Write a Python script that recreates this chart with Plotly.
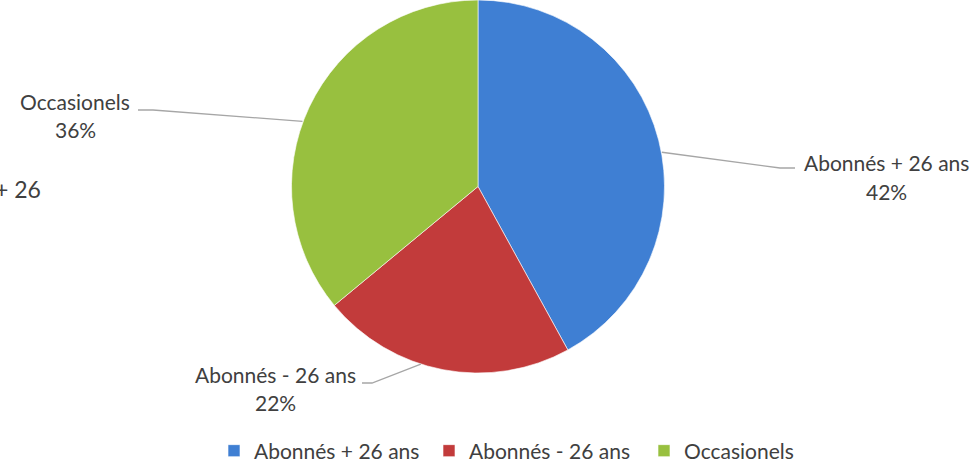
import math
import plotly.graph_objects as go

# ---- data ----
categories = ["Abonnés + 26 ans", "Abonnés - 26 ans", "Occasionels"]
values = [42, 22, 36]
colors = ["#3f7fd3", "#c23b3b", "#98c03f"]

W, H = 975, 463
CX, CY, R = 478, 186, 187  # pie centre / radius in pixels
FONT = "Lato"
FS = 21

# label placement (pixels): text centre x, first line centre y, attach angle offset, elbow, line end
label_style = {
    "Abonnés + 26 ans": dict(tx=886, ty=163, dang=4, elbow=(780, 168), end=(795, 168)),
    "Abonnés - 26 ans": dict(tx=275, ty=374, dang=7, elbow=(372, 383), end=(362, 383)),
    "Occasionels": dict(tx=75, ty=101, dang=-5, elbow=(153, 110), end=(138, 110)),
}

def px(x):
    return x / W

def py(y):
    return 1 - y / H

fig = go.Figure()
fig.add_trace(go.Pie(
    labels=categories,
    values=values,
    sort=False,
    direction="clockwise",
    rotation=0,
    textinfo="none",
    hoverinfo="label+percent",
    marker=dict(colors=colors, line=dict(color="rgba(255,255,255,0.6)", width=1)),
    domain=dict(x=[px(CX - R), px(CX + R)], y=[max(0, py(CY + R)), min(1, py(CY - R))]),
    showlegend=True,
))

total = sum(values)
cum = 0
shapes = []
annotations = []
for cat, v in zip(categories, values):
    st = label_style[cat]
    mid = math.radians((cum + v / 2) / total * 360 + st["dang"])
    cum += v
    sx = CX + R * math.sin(mid)
    sy = CY - R * math.cos(mid)
    ex, ey = st["elbow"]
    fx, fy = st["end"]
    shapes.append(dict(
        type="path", xref="paper", yref="paper",
        path=f"M {px(sx)} {py(sy)} L {px(ex)} {py(ey)} L {px(fx)} {py(fy)}",
        line=dict(color="#a6a6a6", width=1.3),
    ))
    pct = round(v / total * 100)
    annotations.append(dict(
        x=px(st["tx"]), y=py(st["ty"]), xref="paper", yref="paper",
        text=cat, showarrow=False, xanchor="center", yanchor="middle",
        font=dict(size=FS, color="#404040", family=FONT),
    ))
    annotations.append(dict(
        x=px(st["tx"]), y=py(st["ty"] + 28), xref="paper", yref="paper",
        text=f"{pct}%", showarrow=False, xanchor="center", yanchor="middle",
        font=dict(size=FS, color="#404040", family=FONT),
    ))

annotations.append(dict(
    x=px(43), y=py(189), xref="paper", yref="paper", text="+ 26",
    showarrow=False, xanchor="right", yanchor="middle",
    font=dict(size=23, color="#404040", family=FONT),
))

fig.update_layout(
    width=W, height=H,
    margin=dict(l=0, r=0, t=0, b=0, autoexpand=False),
    paper_bgcolor="white",
    plot_bgcolor="white",
    font=dict(family=FONT, color="#404040", size=FS),
    shapes=shapes,
    annotations=annotations,
    legend=dict(
        orientation="h", x=px(214), xanchor="left", y=py(451), yanchor="middle",
        font=dict(size=FS, color="#404040", family=FONT),
        itemwidth=30, entrywidth=170, entrywidthmode="pixels",
        bgcolor="rgba(0,0,0,0)",
    ),
)

fig.write_html(
    "out.html",
    config={"displayModeBar": False},
    post_script="document.body.style.margin='0px';",
)
